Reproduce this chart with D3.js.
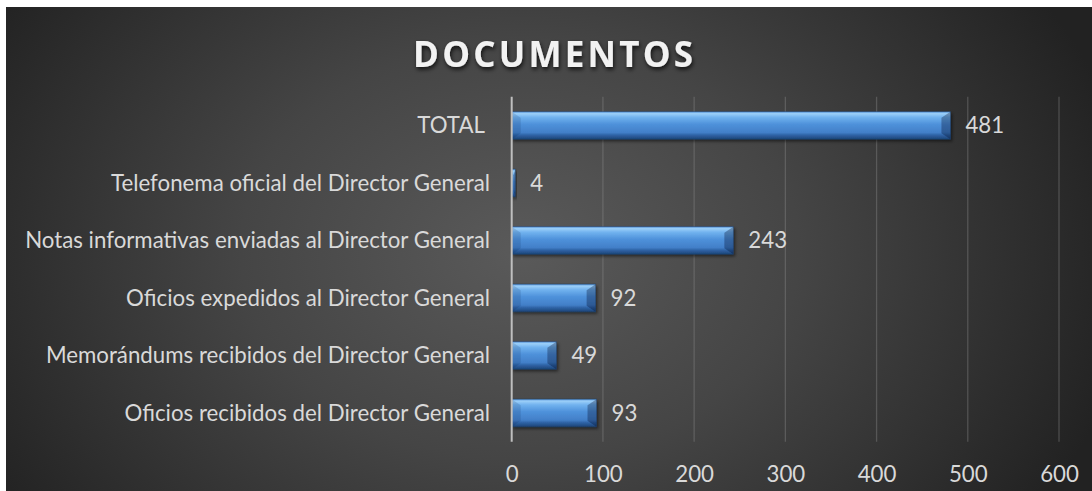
<!DOCTYPE html>
<meta charset="utf-8">
<style>
body { margin: 0; background: #fff; }
svg { display: block; font-family: Lato, "Open Sans", sans-serif; }
</style>
<body>
<script src="https://d3js.org/d3.v7.min.js"></script>
<script>
// chart data, top to bottom as drawn
var categories = [
  "TOTAL ",
  "Telefonema oficial del Director General",
  "Notas informativas enviadas al Director General",
  "Oficios expedidos al Director General",
  "Memorándums recibidos del Director General",
  "Oficios recibidos del Director General"
];
var values = [481, 4, 243, 92, 49, 93];
var tickValues = [0, 100, 200, 300, 400, 500, 600];
var title = "DOCUMENTOS";

var W = 1092, H = 491;
var plot = {left: 511.7, right: 1059, top: 96.7, bottom: 441.7};

var svg = d3.select("body").append("svg")
  .attr("width", W)
  .attr("height", H);

var defs = svg.append("defs");

// background gradient, lighter in the middle
var bg = defs.append("radialGradient")
  .attr("id", "bg")
  .attr("gradientUnits", "userSpaceOnUse")
  .attr("cx", 520).attr("cy", 250).attr("r", 620)
  .attr("gradientTransform", "translate(520,250) scale(1,0.75) translate(-520,-250)");
bg.append("stop").attr("offset", "0%").attr("stop-color", "#5a5a5a");
bg.append("stop").attr("offset", "45%").attr("stop-color", "#454545");
bg.append("stop").attr("offset", "100%").attr("stop-color", "#222222");

// bar fill, vertical
var bar = defs.append("linearGradient")
  .attr("id", "bar")
  .attr("x1", 0).attr("y1", 0).attr("x2", 0).attr("y2", 1);
[["0%", "#5796dc"], ["7%", "#9ccff8"], ["20%", "#72b3ef"], ["45%", "#4f92db"],
 ["76%", "#427fc8"], ["84%", "#3066a9"], ["100%", "#1d4478"]].forEach(function(s) {
  bar.append("stop").attr("offset", s[0]).attr("stop-color", s[1]);
});

var shadow = defs.append("filter").attr("id", "shadow")
  .attr("x", "-10%").attr("y", "-30%").attr("width", "130%").attr("height", "180%");
shadow.append("feDropShadow")
  .attr("dx", 1.5).attr("dy", 2).attr("stdDeviation", 1.5)
  .attr("flood-color", "#000").attr("flood-opacity", 0.5);

var tshadow = defs.append("filter").attr("id", "tshadow")
  .attr("x", "-10%").attr("y", "-30%").attr("width", "120%").attr("height", "180%");
tshadow.append("feDropShadow")
  .attr("dx", 1).attr("dy", 2.5).attr("stdDeviation", 2)
  .attr("flood-color", "#000").attr("flood-opacity", 0.75);

svg.append("rect")
  .attr("x", 6).attr("y", 7)
  .attr("width", W - 6).attr("height", H - 7)
  .attr("fill", "url(#bg)");

var x = d3.scaleLinear()
  .domain([0, 600])
  .range([plot.left, plot.right]);

var y = d3.scaleBand()
  .domain(categories)
  .range([plot.top, plot.bottom])
  .paddingInner(0.52)
  .paddingOuter(0.26);

// gridlines
svg.append("g")
  .selectAll("line")
  .data(tickValues.slice(1))
  .enter().append("line")
    .attr("x1", function(d) { return x(d); })
    .attr("x2", function(d) { return x(d); })
    .attr("y1", plot.top)
    .attr("y2", plot.bottom)
    .attr("stroke", "#8a8a8a")
    .attr("stroke-opacity", 0.4)
    .attr("stroke-width", 1.3);

// bars with bevel facets
var g = svg.append("g").selectAll("g")
  .data(values)
  .enter().append("g")
    .attr("filter", "url(#shadow)");

g.append("rect")
  .attr("x", x(0))
  .attr("y", function(d, i) { return y(categories[i]); })
  .attr("width", function(d) { return x(d) - x(0); })
  .attr("height", y.bandwidth())
  .attr("fill", "url(#bar)");

function facets(d, i) {
  var x0 = x(0), x1 = x(d), y0 = y(categories[i]), y1 = y0 + y.bandwidth();
  var bx = Math.min(9, (x1 - x0) / 2), by = 6;
  return [
    {pts: [[x0, y0], [x0 + bx, y0 + by], [x0 + bx, y1 - by], [x0, y1]], fill: "rgba(10,30,70,0.14)"},
    {pts: [[x1, y0], [x1 - bx, y0 + by], [x1 - bx, y1 - by], [x1, y1]], fill: "rgba(0,10,40,0.32)"}
  ];
}

g.selectAll("polygon")
  .data(function(d, i) { return facets(d, i); })
  .enter().append("polygon")
    .attr("points", function(f) { return f.pts.map(function(p) { return p.join(","); }).join(" "); })
    .attr("fill", function(f) { return f.fill; });

g.append("rect")
  .attr("x", x(0))
  .attr("y", function(d, i) { return y(categories[i]); })
  .attr("width", function(d) { return x(d) - x(0); })
  .attr("height", y.bandwidth())
  .attr("fill", "none")
  .attr("stroke", "#1c3d6a")
  .attr("stroke-opacity", 0.5)
  .attr("stroke-width", 0.8);

// vertical axis line at zero
svg.append("line")
  .attr("x1", x(0)).attr("x2", x(0))
  .attr("y1", plot.top).attr("y2", plot.bottom)
  .attr("stroke", "#bfbfbf")
  .attr("stroke-width", 2);

var fontSize = 19;
var textColor = "#d9d9d9";

// category labels
var cat = svg.append("g").selectAll("text")
  .data(categories)
  .enter().append("text")
    .attr("x", 490)
    .attr("y", function(d) { return y(d) + y.bandwidth() / 2; })
    .attr("dy", "0.35em")
    .attr("text-anchor", "end")
    .attr("fill", textColor)
    .style("font-size", fontSize + "px")
    .style("white-space", "pre")
    .text(function(d) { return d; });

// fit the longest label to the width seen in the chart
var longest = cat.filter(function(d, i) { return i === 2; }).node().getComputedTextLength();
fontSize = fontSize * 465 / longest;
cat.style("font-size", fontSize + "px");

// value labels
svg.append("g").selectAll("text")
  .data(values)
  .enter().append("text")
    .attr("x", function(d) { return x(d) + 15; })
    .attr("y", function(d, i) { return y(categories[i]) + y.bandwidth() / 2; })
    .attr("dy", "0.35em")
    .attr("fill", textColor)
    .style("font-size", fontSize + "px")
    .text(function(d) { return d; });

// bottom axis labels
var xAxis = d3.axisBottom(x)
  .tickValues(tickValues)
  .tickSize(0)
  .tickPadding(0);

var ax = svg.append("g")
  .attr("transform", "translate(0,460)")
  .call(xAxis);
ax.select(".domain").remove();
ax.selectAll("text")
  .attr("fill", textColor)
  .attr("dy", "1.0em")
  .style("font-family", "Lato, 'Open Sans', sans-serif")
  .style("font-size", fontSize + "px");

// title
svg.append("text")
  .attr("x", 553)
  .attr("y", 67)
  .attr("text-anchor", "middle")
  .attr("fill", "#f2f2f2")
  .attr("filter", "url(#tshadow)")
  .attr("textLength", 280)
  .attr("lengthAdjust", "spacing")
  .style("font-family", "'Open Sans', sans-serif")
  .style("font-weight", "bold")
  .style("font-size", "35px")
  .text(title);
</script>
</body>
